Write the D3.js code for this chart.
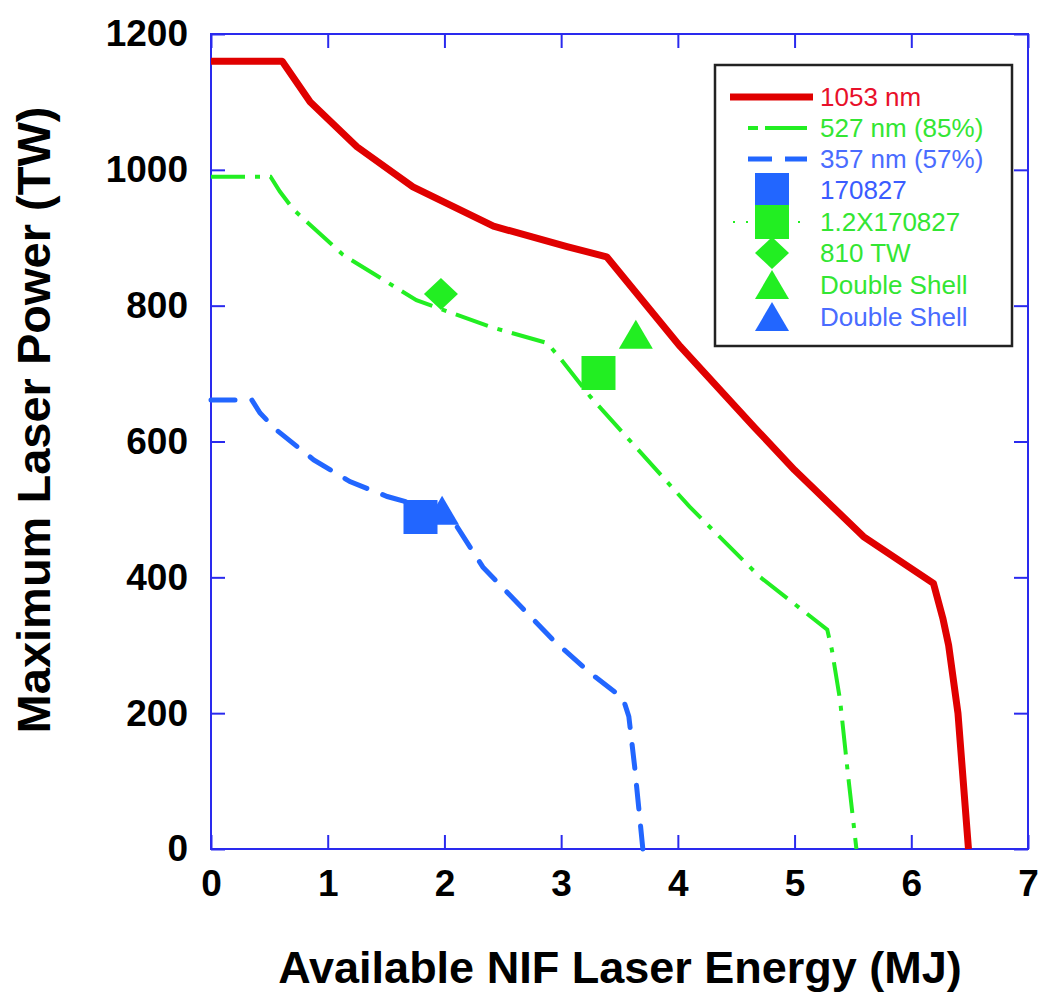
<!DOCTYPE html>
<html>
<head>
<meta charset="utf-8">
<script src="https://cdn.jsdelivr.net/npm/d3@7"></script>
<style>
  body { margin: 0; background: #fff; }
  text { font-family: "Liberation Sans", Arial, sans-serif; }
</style>
</head>
<body>
<svg id="chart" width="1044" height="996"></svg>
<script>
// ---- data (energy MJ, power TW) ----
var curve1053 = [[0,1160],[0.61,1160],[0.85,1100],[1.25,1034],[1.73,975],[2.42,917],[3.05,887],[3.39,872],
                 [4.02,740],[4.65,622],[5.0,558],[5.59,460],[6.19,391],[6.27,340],[6.32,300],[6.40,200],[6.49,0]];
var curve527  = [[0,990],[0.51,990],[0.59,968],[0.71,941],[1.13,875],[1.76,808],[2.39,769],[2.88,745],[2.99,723],
                 [3.25,666],[4.10,504],[4.70,401],[5.28,323],[5.32,293],[5.39,219],[5.46,106],[5.53,0]];
var curve357  = [[0,661],[0.35,661],[0.42,642],[0.56,617],[0.88,573],[1.19,541],[1.51,519],[1.8,505],
                 [2.11,474],[2.33,415],[2.93,308],[3.25,259],[3.53,222],[3.58,195],[3.63,121],[3.70,0]];

var shotNames  = ["Double Shell (357)", "170827", "1.2X170827", "810 TW", "Double Shell (527)"];
var shotEnergy = [1.98, 1.795, 3.32, 1.97, 3.64];
var shotPower  = [498, 489, 701, 817, 757];

var xTicks = [0,1,2,3,4,5,6,7];
var yTicks = [0,200,400,600,800,1000,1200];

var legendLabels = ["1053 nm","527 nm (85%)","357 nm (57%)","170827","1.2X170827","810 TW","Double Shell","Double Shell"];

// ---- styles ----
var RED = "#e00000", GREEN = "#22ee22", BLUE = "#2266ff", AXIS = "#2a2aee";
var shotShape = ["triangle","square","square","diamond","triangle"];
var shotColor = [BLUE, BLUE, GREEN, GREEN, GREEN];

var svg = d3.select("#chart");

// svg canvas / plot area
var x = d3.scaleLinear().domain([0,7]).range([211,1028]);
var y = d3.scaleLinear().domain([0,1200]).range([849,34]);

// frame
svg.append("rect")
   .attr("x", 211).attr("y", 34)
   .attr("width", 817).attr("height", 815)
   .attr("fill", "none").attr("stroke", AXIS).attr("stroke-width", 2);

function styleAxis(g, showLabels) {
  g.select(".domain").remove();
  g.selectAll(".tick line").attr("stroke", AXIS).attr("stroke-width", 2);
  g.selectAll(".tick text")
   .attr("fill", "#000")
   .style("font-size", showLabels ? "37px" : "0px")
   .style("font-weight", "bold");
}

// bottom + left axes with labels, ticks pointing inward
svg.append("g").attr("transform", "translate(0,849)")
   .call(d3.axisBottom(x).tickValues(xTicks).tickSize(-14).tickPadding(21).tickFormat(d3.format("d")))
   .call(styleAxis, true);
svg.append("g").attr("transform", "translate(211,0)")
   .call(d3.axisLeft(y).tickValues(yTicks).tickSize(-14).tickPadding(23).tickFormat(d3.format("d")))
   .call(styleAxis, true);
// top + right mirror ticks
svg.append("g").attr("transform", "translate(0,34)")
   .call(d3.axisTop(x).tickValues(xTicks).tickSize(-14).tickFormat(""))
   .call(styleAxis, false);
svg.append("g").attr("transform", "translate(1028,0)")
   .call(d3.axisRight(y).tickValues(yTicks).tickSize(-14).tickFormat(""))
   .call(styleAxis, false);

// axis titles
svg.append("text")
   .attr("x", 620).attr("y", 983)
   .attr("text-anchor", "middle")
   .style("font-size", "45px").style("font-weight", "bold")
   .text("Available NIF Laser Energy (MJ)");
svg.append("text")
   .attr("transform", "translate(50,420) rotate(-90)")
   .attr("text-anchor", "middle")
   .style("font-size", "47px").style("font-weight", "bold")
   .text("Maximum Laser Power (TW)");

// curves
var line = d3.line().x(function(d){ return x(d[0]); }).y(function(d){ return y(d[1]); });

svg.append("path").datum(curve357).attr("d", line)
   .attr("fill", "none").attr("stroke", BLUE).attr("stroke-width", 5)
   .attr("stroke-dasharray", "24,17").attr("stroke-linecap", "round");
svg.append("path").datum(curve527).attr("d", line)
   .attr("fill", "none").attr("stroke", GREEN).attr("stroke-width", 4)
   .attr("stroke-dasharray", "34,10,5,10");
svg.append("path").datum(curve1053).attr("d", line)
   .attr("fill", "none").attr("stroke", RED).attr("stroke-width", 7)
   .attr("stroke-linejoin", "round");

// marker shapes in pixels, centred on (cx, cy)
function shapePath(kind, cx, cy) {
  var p = d3.path();
  if (kind === "square") {
    p.rect(cx - 17, cy - 17, 34, 34);
  } else if (kind === "diamond") {
    p.moveTo(cx, cy - 16); p.lineTo(cx + 17, cy); p.lineTo(cx, cy + 16); p.lineTo(cx - 17, cy); p.closePath();
  } else {
    p.moveTo(cx, cy - 15); p.lineTo(cx + 17, cy + 14); p.lineTo(cx - 17, cy + 14); p.closePath();
  }
  return p.toString();
}

svg.append("g").selectAll("path")
   .data(shotEnergy.map(function(e, i){ return i; }))
   .enter().append("path")
   .attr("d", function(i){ return shapePath(shotShape[i], x(shotEnergy[i]), y(shotPower[i])); })
   .attr("fill", function(i){ return shotColor[i]; });

// legend
var lg = svg.append("g");
lg.append("rect")
  .attr("x", 715).attr("y", 65).attr("width", 297).attr("height", 281)
  .attr("fill", "#fff").attr("stroke", "#222").attr("stroke-width", 2.5);

var rowY = [97,128,159,190,222,253,285,317];
var textColor = ["#e8102a","#33e633","#4a6cff","#3a5cff","#33e633","#33e633","#33e633","#4a6cff"];

lg.append("line").attr("x1", 730).attr("x2", 813).attr("y1", rowY[0]).attr("y2", rowY[0])
  .attr("stroke", RED).attr("stroke-width", 7);
lg.append("line").attr("x1", 748).attr("x2", 807).attr("y1", rowY[1]).attr("y2", rowY[1])
  .attr("stroke", GREEN).attr("stroke-width", 4).attr("stroke-dasharray", "10,7,40,0");
lg.append("line").attr("x1", 748).attr("x2", 807).attr("y1", rowY[2]).attr("y2", rowY[2])
  .attr("stroke", BLUE).attr("stroke-width", 5).attr("stroke-dasharray", "24,13");
lg.append("line").attr("x1", 733).attr("x2", 810).attr("y1", rowY[4]).attr("y2", rowY[4])
  .attr("stroke", GREEN).attr("stroke-width", 2).attr("stroke-dasharray", "2,11");

var legendShapes = [[3,"square",BLUE],[4,"square",GREEN],[5,"diamond",GREEN],[6,"triangle",GREEN],[7,"triangle",BLUE]];
legendShapes.forEach(function(s){
  lg.append("path").attr("d", shapePath(s[1], 772, rowY[s[0]])).attr("fill", s[2]);
});

lg.selectAll("text.lab")
  .data(legendLabels)
  .enter().append("text")
  .attr("class", "lab")
  .attr("x", 820)
  .attr("y", function(d, i){ return rowY[i]; })
  .attr("dy", "0.36em")
  .attr("fill", function(d, i){ return textColor[i]; })
  .style("font-size", "26px")
  .text(function(d){ return d; });
</script>
</body>
</html>
